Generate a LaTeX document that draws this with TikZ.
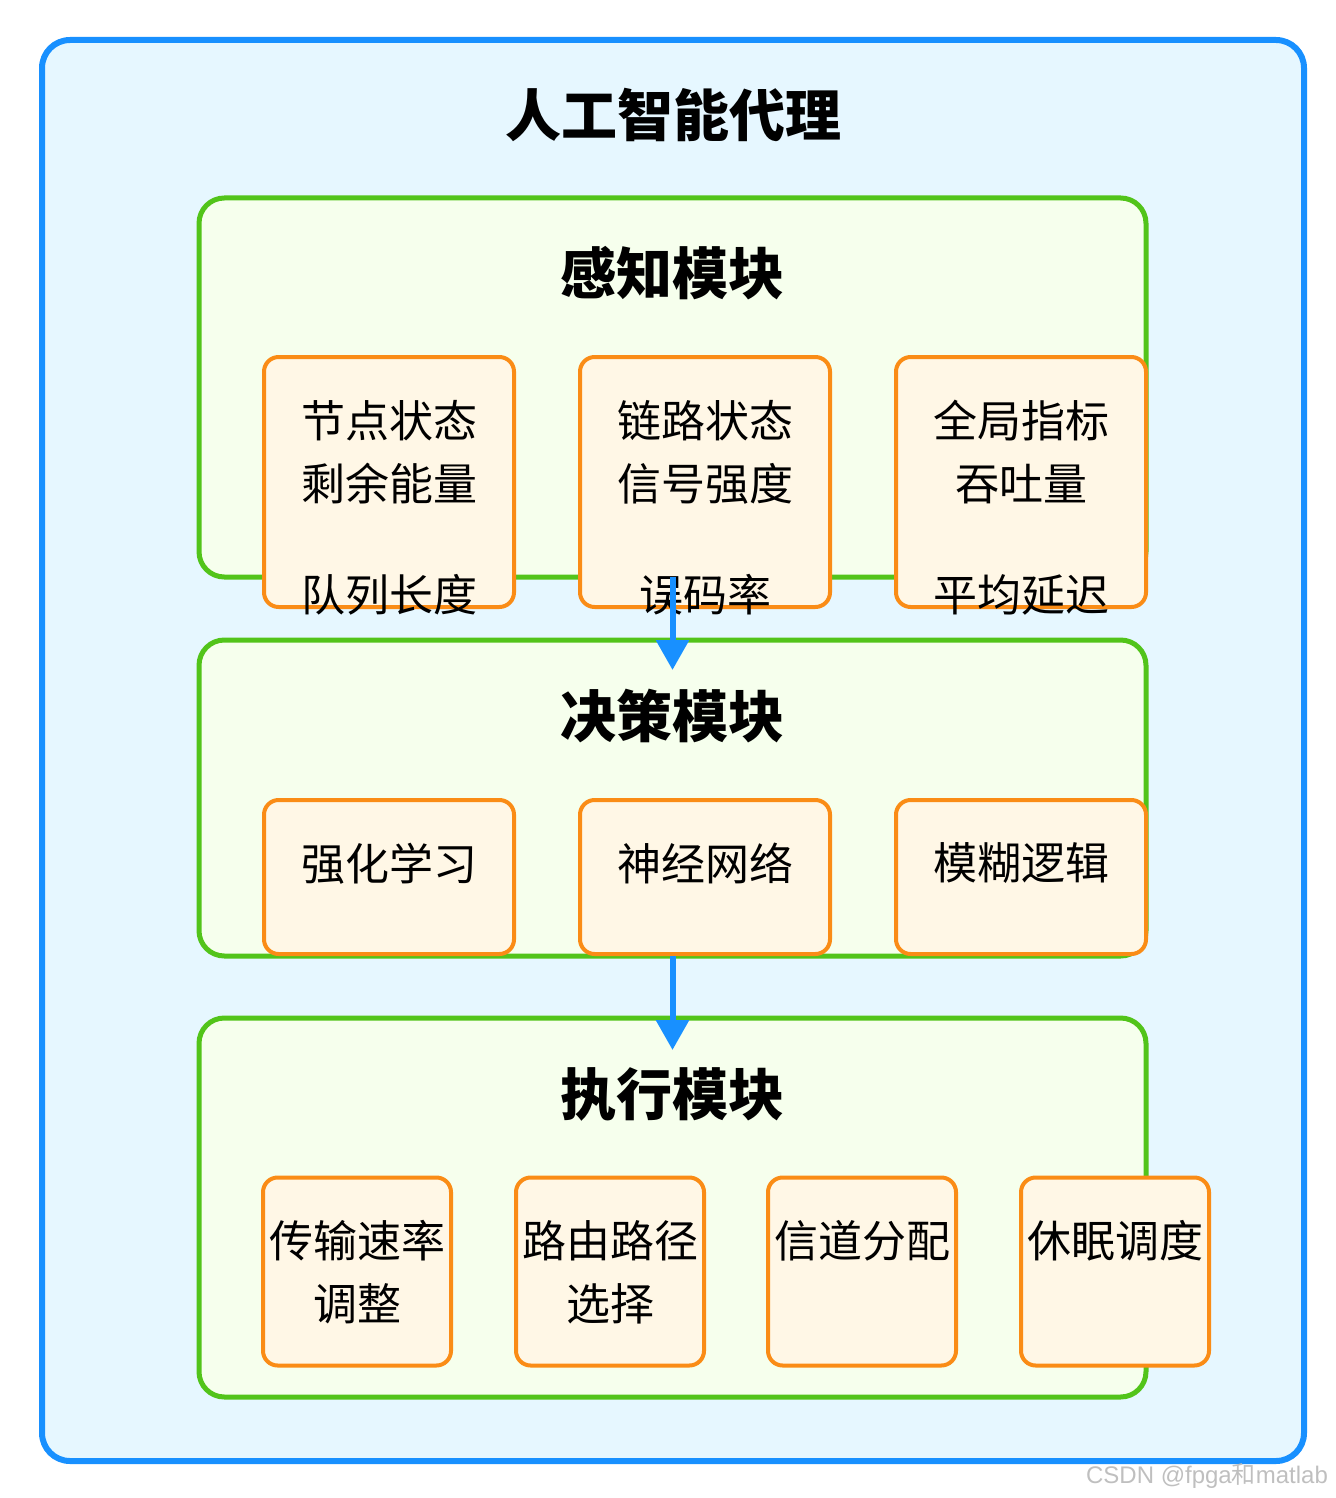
\documentclass[tikz,border=0pt]{standalone}
\usepackage{fontspec}
\setmainfont{Noto Sans CJK SC}
\newfontfamily\markfont{Liberation Sans}
\newfontfamily\cjk{Noto Sans CJK SC}
\usetikzlibrary{arrows.meta}

\definecolor{agentline}{HTML}{1890FF}
\definecolor{agentfill}{HTML}{E6F7FF}
\definecolor{modline}{HTML}{52C41A}
\definecolor{modfill}{HTML}{F6FFED}
\definecolor{partline}{HTML}{FA8C16}
\definecolor{partfill}{HTML}{FFF7E6}

\begin{document}
\begin{tikzpicture}[x=0.75pt, y=-0.75pt,
  box size/.style 2 args={minimum width=#1*0.75pt, minimum height=#2*0.75pt, inner sep=0pt, outer sep=0pt},
  agent/.style={draw=agentline, fill=agentfill, line width=4.5pt, rounded corners=21pt},
  module/.style={draw=modline, fill=modfill, line width=3.75pt, rounded corners=19pt},
  part/.style={draw=partline, fill=partfill, line width=3pt, rounded corners=11pt},
  title/.style={font=\fontsize{42}{50}\selectfont\bfseries},
  lbl/.style={font=\fontsize{33}{47.25}\selectfont, align=center, anchor=north, inner sep=0pt},
  flow/.style={draw=agentline, line width=4.5pt, -{Triangle[length=22.5pt,width=24pt]}}]
  \useasboundingbox (0,0) rectangle (1335,1498);

  % agent
  \node[agent, box size={1262}{1421}] (agent) at (673,750.5) {};
  \node[title] (agenttitle) at ([yshift=-56pt]agent.north) {人工智能代理};

  % perception
  \node[module, box size={947}{379}] (sense) at (672.5,387.5) {};
  \node[title] (sensetitle) at ([yshift=-56pt]sense.north) {感知模块};
  \foreach \name/\x/\txt in {p1/389/{节点状态\\剩余能量\\[36pt]队列长度},
                             p2/705/{链路状态\\信号强度\\[36pt]误码率},
                             p3/1021/{全局指标\\吞吐量\\[36pt]平均延迟}} {
    \node[part, box size={250}{250}] (\name) at (\x,482) {};
    \node[lbl] (\name t) at ([yshift=-32pt]\name.north) {\txt};
  }

  % decision
  \node[module, box size={947}{316}] (decide) at (672.5,798) {};
  \node[title] (decidetitle) at ([yshift=-57pt]decide.north) {决策模块};
  \foreach \name/\x/\txt in {d1/389/强化学习, d2/705/神经网络, d3/1021/模糊逻辑} {
    \node[part, box size={250}{154}] (\name) at (\x,877) {};
    \node[lbl] (\name t) at ([yshift=-32pt]\name.north) {\txt};
  }

  % execution
  \node[module, box size={947}{379}] (act) at (672.5,1207.5) {};
  \node[title] (acttitle) at ([yshift=-57pt]act.north) {执行模块};
  \foreach \name/\x/\txt in {e1/357/{传输速率\\调整}, e2/610/{路由路径\\选择},
                             e3/862/信道分配, e4/1115/休眠调度} {
    \node[part, box size={188}{188}] (\name) at (\x,1271.5) {};
    \node[lbl] (\name t) at ([yshift=-32pt]\name.north) {\txt};
  }

  % flow
  \draw[flow] (sense.south) -- ([yshift=-22.5pt]decide.north);
  \draw[flow] (decide.south) -- ([yshift=-24pt]act.north);

  \node[font=\markfont\fontsize{18}{20}\selectfont, text=black!25] (mark) at (1207,1476) {CSDN @fpga{\cjk 和}matlab};
\end{tikzpicture}
\end{document}
